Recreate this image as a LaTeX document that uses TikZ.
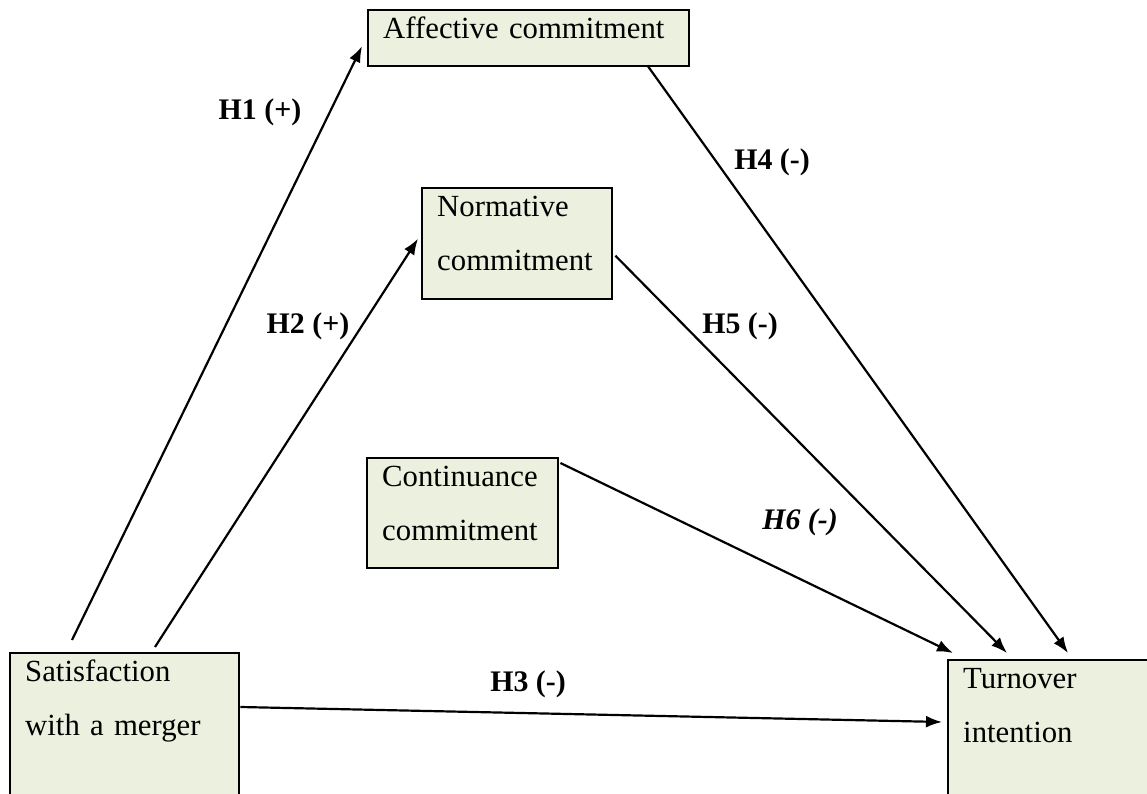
\documentclass[tikz,border=0pt]{standalone}
\usepackage{fontspec}
\setmainfont{Liberation Serif}
\usetikzlibrary{arrows.meta, calc}
\definecolor{BoxGreen}{HTML}{EBF1DE}

\begin{document}
\begin{tikzpicture}[
                x=0.02cm, y=-0.02cm,
                concept/.style={draw=black, line width=1.4pt, fill=BoxGreen, anchor=north west, align=left,
                    inner xsep=0.3cm, inner ysep=0.15cm, text height=0.42cm,
                    font=\fontsize{17.5pt}{30.6pt}\selectfont},
                hyp/.style={font=\fontsize{17pt}{20pt}\selectfont\bfseries},
                link/.style={-{Latex[length=0.32cm, width=0.24cm]}, line width=1.25pt}
            ]
                \useasboundingbox (0,0) rectangle (1147,794);
                \clip (0,0) rectangle (1147,794);

                % Constructs
                \node[concept, text width=5.82cm, text depth=0.40cm] (aff) at (367,9) {Affective commitment};
                \node[concept, text width=3.2cm, text depth=1.50cm] (norm) at (421,187) {Normative\\commitment};
                \node[concept, text width=3.22cm, text depth=1.48cm] (cont) at (366,457) {Continuance\\commitment};
                \node[concept, text width=3.98cm, text depth=2.85cm] (sat) at (9,652) {Satisfaction\\with a merger};
                \node[concept, text width=3.9cm, text depth=2.71cm] (turn) at (947,659) {Turnover\\intention};

                % Hypotheses
                \draw[link] ($(sat.north west)+(63,-12)$) -- ($(aff.west)+(-5,8)$);
                \draw[link] ($(sat.north west)+(146,-5)$) -- ($(norm.west)+(-3,-5)$);
                \draw[link] ($(sat.north east)+(0,55)$) -- ($(turn.north west)+(-5,63)$);
                \draw[link] ($(aff.south east)+(-43,-2)$) -- ($(turn.north west)+(121,-6)$);
                \draw[link] ($(norm.east)+(2,12)$) -- ($(turn.north west)+(60,-6)$);
                \draw[link] ($(cont.north east)+(1,6)$) -- ($(turn.north west)+(6,-6)$);

                % Labels
                \foreach \name/\x/\y/\txt in {h1/260/112/{H1 (+)}, h2/308/326/{H2 (+)}, h3/528/684/{H3 (-)},
                                              h4/772/162/{H4 (-)}, h5/740/326/{H5 (-)}} {
                    \node[hyp] (\name) at (\x,\y) {\txt};
                }
                \node[hyp, font=\fontsize{17pt}{20pt}\selectfont\bfseries\itshape] (h6) at (800,522) {H6 (-)};
            \end{tikzpicture}
\end{document}
